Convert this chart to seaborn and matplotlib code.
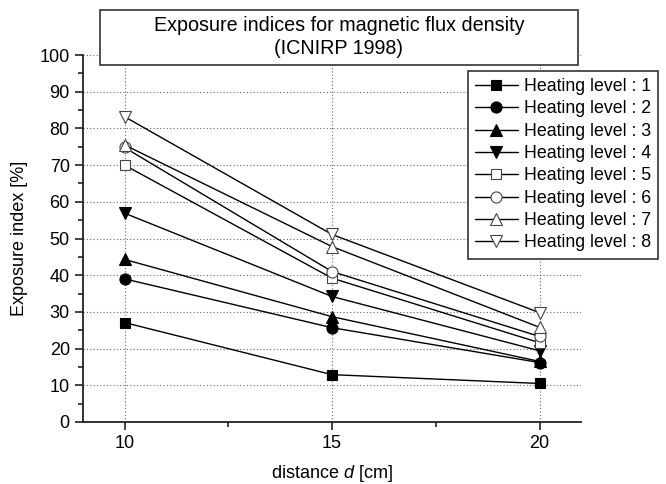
import matplotlib
matplotlib.use("Agg")
import matplotlib.pyplot as plt
import seaborn as sns
from matplotlib.patches import Rectangle
from matplotlib.ticker import MultipleLocator

distance = [10, 15, 20]
level_1 = [27.1, 12.9, 10.5]
level_2 = [39.0, 25.7, 16.2]
level_3 = [44.3, 28.7, 16.5]
level_4 = [56.9, 34.2, 19.4]
level_5 = [70.0, 39.2, 21.6]
level_6 = [74.8, 41.0, 23.3]
level_7 = [75.5, 47.8, 25.8]
level_8 = [83.2, 51.1, 29.8]
levels = [level_1, level_2, level_3, level_4, level_5, level_6, level_7, level_8]
labels = ["Heating level : %d" % i for i in range(1, 9)]

sns.set_style("ticks")
plt.rcParams["font.family"] = ["Liberation Sans", "DejaVu Sans"]
plt.rcParams["mathtext.fontset"] = "custom"
plt.rcParams["mathtext.rm"] = "Liberation Sans"
plt.rcParams["mathtext.it"] = "Liberation Sans:italic"
plt.rcParams["text.color"] = "black"
plt.rcParams["axes.labelcolor"] = "black"

markers = ["s", "o", "^", "v", "s", "o", "^", "v"]
filled = [True, True, True, True, False, False, False, False]
sizes = [7, 8, 8.5, 8.5, 7, 8, 8.5, 8.5]

fig = plt.figure(figsize=(6.66, 4.84), dpi=100)
ax = fig.add_axes([83 / 666, 62 / 484, 498 / 666, 367 / 484])

for vals, lab, m, f, ms in zip(levels, labels, markers, filled, sizes):
    sns.lineplot(x=distance, y=vals, ax=ax, color="black", lw=1.0,
                 marker=m, markersize=ms,
                 markerfacecolor="black" if f else "white",
                 markeredgecolor="black" if f else "#444444",
                 markeredgewidth=0.8, label=lab, zorder=3)

ax.set_xlim(9, 21)
ax.set_ylim(0, 100)
ax.set_xticks([10, 15, 20])
ax.set_yticks(range(0, 101, 10))
ax.xaxis.set_minor_locator(MultipleLocator(2.5))
ax.yaxis.set_minor_locator(MultipleLocator(5))
ax.tick_params(which="major", direction="out", length=6, width=1.2, labelsize=13,
               colors="#222222", labelcolor="black")
ax.tick_params(which="minor", direction="out", length=3.5, width=1.2, colors="#222222")
ax.grid(True, which="major", linestyle=(0, (1, 2)), color="#666666", lw=0.8)
sns.despine(ax=ax)
for s in ["left", "bottom"]:
    ax.spines[s].set_linewidth(1.3)
    ax.spines[s].set_color("#222222")

ax.set_xlabel("distance $d$ [cm]", fontsize=13, labelpad=8)
ax.set_ylabel("Exposure index [%]", fontsize=13, labelpad=8)

leg = ax.legend(loc="upper right", bbox_to_anchor=(658 / 666, 1 - 71 / 484),
                bbox_transform=fig.transFigure, fontsize=12.8, frameon=True,
                fancybox=False, edgecolor="#333333", framealpha=1,
                handlelength=2.4, handletextpad=0.35, labelspacing=0.3,
                borderpad=0.4, borderaxespad=0)
leg.get_frame().set_linewidth(1.2)

# title box
fig.patches.append(Rectangle((100 / 666, 1 - 65 / 484), 478 / 666, 55 / 484,
                             transform=fig.transFigure, facecolor="white",
                             edgecolor="#333333", lw=1.2, zorder=5))
fig.text(339 / 666, 1 - 37 / 484,
         "Exposure indices for magnetic flux density\n(ICNIRP 1998)",
         ha="center", va="center", fontsize=14.2, linespacing=1.3, zorder=6)

fig.savefig("out.png", dpi=100)
